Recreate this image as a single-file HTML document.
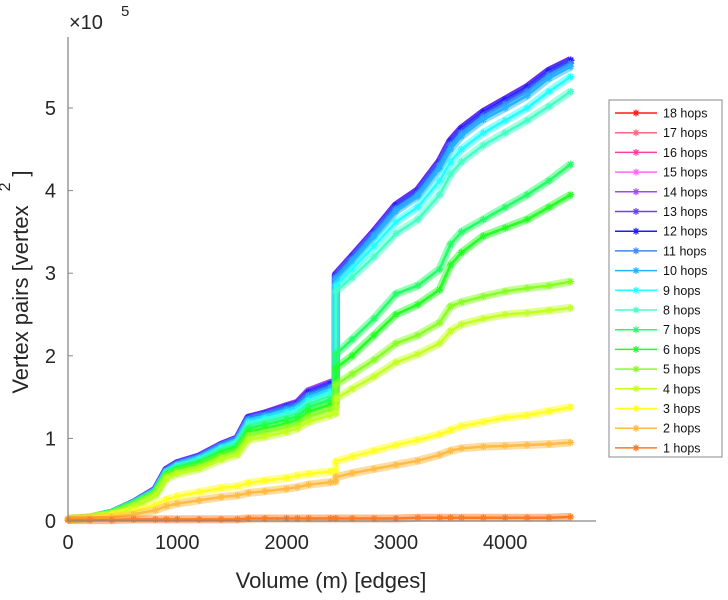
<!DOCTYPE html>
<html><head><meta charset="utf-8"><style>
html,body{margin:0;padding:0;background:#fff;}
svg{display:block;font-family:"Liberation Sans",sans-serif;}
</style></head><body>
<svg id="chart" width="728" height="600" viewBox="0 0 728 600">
<g id="plot"></g>
<g id="axes"></g>
<g id="legend"></g>
</svg>
<script>
const xVals=[0,200,400,600,800,900,1000,1200,1400,1550,1650,1800,2000,2100,2200,2400,2449,2451,2600,2800,3000,3200,3400,3500,3600,3800,4000,4200,4400,4600];
const hop13plus=[0.02,0.04,0.1,0.22,0.38,0.62,0.7,0.78,0.92,1.0,1.25,1.3,1.39,1.43,1.57,1.67,1.69,2.98,3.2,3.5,3.82,4.0,4.35,4.6,4.75,4.95,5.1,5.25,5.45,5.58];
const hop12=[0.02,0.04,0.1,0.22,0.38,0.62,0.7,0.78,0.92,1.0,1.25,1.3,1.38,1.42,1.55,1.65,1.67,2.98,3.2,3.5,3.82,4.0,4.35,4.6,4.75,4.95,5.1,5.25,5.45,5.58];
const hop11=[0.02,0.04,0.1,0.22,0.37,0.61,0.69,0.77,0.91,0.99,1.23,1.28,1.36,1.4,1.52,1.62,1.64,2.95,3.17,3.47,3.78,3.96,4.31,4.55,4.7,4.9,5.05,5.2,5.4,5.54];
const hop10=[0.02,0.04,0.1,0.22,0.37,0.6,0.68,0.76,0.9,0.98,1.22,1.27,1.34,1.38,1.5,1.6,1.62,2.92,3.14,3.44,3.75,3.93,4.27,4.5,4.66,4.86,5.0,5.15,5.36,5.5];
const hop9=[0.02,0.04,0.1,0.21,0.36,0.59,0.67,0.75,0.88,0.96,1.19,1.24,1.31,1.35,1.46,1.56,1.58,2.85,3.05,3.33,3.62,3.8,4.12,4.35,4.5,4.7,4.85,5.0,5.2,5.38];
const hop8=[0.02,0.04,0.1,0.21,0.35,0.58,0.65,0.73,0.86,0.94,1.16,1.21,1.27,1.31,1.42,1.52,1.54,2.78,2.95,3.2,3.48,3.65,3.95,4.2,4.35,4.55,4.7,4.85,5.02,5.2];
const hop7=[0.02,0.04,0.1,0.21,0.35,0.57,0.64,0.71,0.84,0.91,1.12,1.17,1.23,1.27,1.38,1.47,1.49,2.02,2.2,2.45,2.75,2.85,3.05,3.35,3.5,3.65,3.8,3.95,4.12,4.32];
const hop6=[0.02,0.04,0.1,0.2,0.34,0.56,0.62,0.69,0.81,0.88,1.08,1.12,1.18,1.22,1.32,1.41,1.43,1.85,2.0,2.25,2.5,2.62,2.8,3.1,3.25,3.45,3.55,3.65,3.8,3.95];
const hop5=[0.02,0.03,0.09,0.19,0.33,0.54,0.6,0.66,0.78,0.84,1.03,1.07,1.13,1.17,1.26,1.35,1.37,1.65,1.78,1.95,2.15,2.25,2.4,2.6,2.65,2.72,2.78,2.82,2.85,2.9];
const hop4=[0.02,0.03,0.08,0.18,0.31,0.51,0.57,0.63,0.74,0.8,0.98,1.02,1.08,1.12,1.2,1.28,1.3,1.48,1.6,1.75,1.92,2.02,2.15,2.3,2.38,2.45,2.5,2.52,2.55,2.58];
const hop3=[0.03,0.05,0.08,0.12,0.2,0.26,0.3,0.35,0.4,0.42,0.46,0.49,0.52,0.55,0.57,0.6,0.6,0.72,0.78,0.85,0.92,0.98,1.05,1.1,1.15,1.2,1.25,1.28,1.33,1.38];
const hop2=[0.03,0.04,0.05,0.08,0.13,0.18,0.21,0.25,0.29,0.31,0.34,0.36,0.39,0.41,0.44,0.47,0.48,0.53,0.58,0.63,0.68,0.73,0.8,0.85,0.88,0.9,0.91,0.92,0.93,0.95];
const hop1=[0.01,0.01,0.01,0.02,0.02,0.02,0.02,0.02,0.02,0.02,0.03,0.03,0.03,0.03,0.03,0.03,0.03,0.03,0.03,0.03,0.03,0.04,0.04,0.04,0.04,0.04,0.04,0.04,0.04,0.05];
const seriesLabels=["18 hops","17 hops","16 hops","15 hops","14 hops","13 hops","12 hops","11 hops","10 hops","9 hops","8 hops","7 hops","6 hops","5 hops","4 hops","3 hops","2 hops","1 hops"];
const seriesData=[hop13plus,hop13plus,hop13plus,hop13plus,hop13plus,hop13plus,hop12,hop11,hop10,hop9,hop8,hop7,hop6,hop5,hop4,hop3,hop2,hop1];
const seriesColors=["#ff1a1a","#ff6680","#ff3fa0","#ff66ff","#b040ff","#6a40ff","#1a1aff","#3f86ff","#22b4ff","#22ffff","#44ffc8","#22ff66","#22ff22","#88ff22","#c4ff22","#ffff22","#ffbb44","#ff7a22"];
const xTicks=[0,1000,2000,3000,4000];
const yTicks=[0,1,2,3,4,5];

const NS="http://www.w3.org/2000/svg";
const X0=68,XS=0.1093,Y0=521,YS=82.6;
const sx=v=>X0+v*XS, sy=v=>Y0-v*YS;
function mk(tag,attrs,parent){const e=document.createElementNS(NS,tag);for(const k in attrs)e.setAttribute(k,attrs[k]);parent.appendChild(e);return e;}
const plot=document.getElementById('plot'),axes=document.getElementById('axes'),legend=document.getElementById('legend');
function star(g,x,y,c,r){
  const d=`M${x-r},${y}H${x+r}M${x},${y-r}V${y+r}M${x-r*0.7},${y-r*0.7}L${x+r*0.7},${y+r*0.7}M${x-r*0.7},${y+r*0.7}L${x+r*0.7},${y-r*0.7}`;
  mk('path',{d:d,stroke:c,'stroke-width':1.2,fill:'none'},g);
}
for(let s=0;s<seriesData.length;s++){
  const g=mk('g',{},plot);
  
  
  const vals=seriesData[s];
  const pts=vals.map((v,i)=>sx(xVals[i])+','+sy(v)).join(' ');
  mk('polyline',{points:pts,fill:'none',stroke:seriesColors[s],'stroke-width':8,'stroke-opacity':0.5,'stroke-linejoin':'round'},g);
  mk('polyline',{points:pts,fill:'none',stroke:seriesColors[s],'stroke-width':2.5,'stroke-linejoin':'round'},g);
  vals.forEach((v,i)=>star(g,sx(xVals[i]),sy(v),seriesColors[s],3.5));
}
mk('line',{x1:X0,y1:37,x2:X0,y2:Y0,stroke:'#888','stroke-width':1.3},axes);
mk('line',{x1:X0,y1:Y0,x2:596,y2:Y0,stroke:'#888','stroke-width':1.3},axes);
xTicks.forEach(t=>{
  mk('line',{x1:sx(t),y1:Y0,x2:sx(t),y2:Y0-5,stroke:'#888'},axes);
  const tx=mk('text',{x:sx(t),y:Y0+28,'text-anchor':'middle','font-size':20,fill:'#262626'},axes);
  tx.textContent=t;
  
  
});
yTicks.forEach(t=>{
  mk('line',{x1:X0,y1:sy(t),x2:X0+5,y2:sy(t),stroke:'#888'},axes);
  const tx=mk('text',{x:X0-12,y:sy(t)+7,'text-anchor':'end','font-size':20,fill:'#262626'},axes);
  tx.textContent=t;
  
  
});
mk('rect',{x:609,y:100,width:113,height:357,fill:'#fff',stroke:'#888','stroke-width':1},legend);
seriesLabels.forEach((l,i)=>{
  const y=113+i*19.7;
  const g=mk('g',{},legend);
  
  
  mk('line',{x1:615,y1:y,x2:657,y2:y,stroke:seriesColors[i],'stroke-width':1.5},g);
  star(g,636,y,seriesColors[i],3.5);
  const t=mk('text',{x:663,y:y+4.5,'font-size':12.5,fill:'#111'},g);
  t.textContent=l;
});
</script>
<div style="position:absolute;left:0;top:0;width:728px;height:600px;pointer-events:none">
<svg width="728" height="600" style="position:absolute;left:0;top:0">
<text x="69" y="29" font-family="Liberation Sans, sans-serif" font-size="20" fill="#262626">×10</text>
<text x="121" y="16" font-family="Liberation Sans, sans-serif" font-size="15" fill="#262626">5</text>
<text x="331" y="588" text-anchor="middle" font-family="Liberation Sans, sans-serif" font-size="22" fill="#262626">Volume (m) [edges]</text>
<g transform="translate(28,282) rotate(-90)">
<text x="0" y="0" text-anchor="middle" font-family="Liberation Sans, sans-serif" font-size="22" fill="#262626">Vertex pairs [vertex<tspan dx="14" dy="-18" font-size="16">2</tspan><tspan dx="6" dy="18">]</tspan></text>
</g>
</svg>
</div>
</body></html>
